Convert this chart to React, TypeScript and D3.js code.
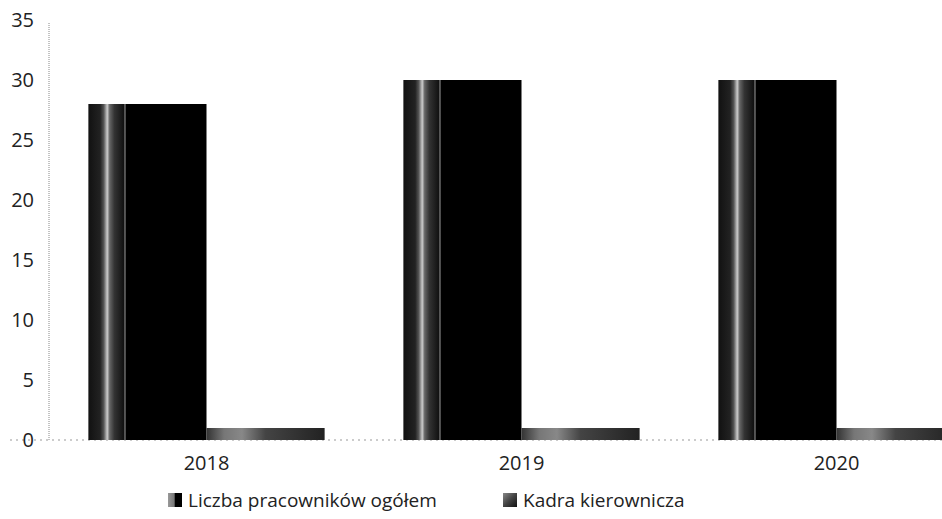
import React from "react";
import * as d3 from "d3";

const categories = ["2018", "2019", "2020"];
const seriesNames = ["Liczba pracowników ogółem", "Kadra kierownicza"];
const totalEmployees = [28, 30, 30];
const managers = [1, 1, 1];
const yTicks = [0, 5, 10, 15, 20, 25, 30, 35];

const W = 942;
const H = 519;

export default function App() {
  const x = d3.scaleBand<string>().domain(categories).range([49, 994]).paddingInner(0.25).paddingOuter(0.125);
  const inner = d3.scaleBand<string>().domain(seriesNames).range([0, x.bandwidth()]);
  const y = d3.scaleLinear().domain([0, 35]).range([440, 20]);
  const font = "'Open Sans', sans-serif";
  const series = [totalEmployees, managers];

  return (
    <svg width={W} height={H} style={{ position: "absolute", left: 0, top: 0, background: "#fff" }}>
      <defs>
        <linearGradient id="gBlack" x1="0" x2="1" y1="0" y2="0">
          <stop offset="0" stopColor="#111" />
          <stop offset="0.1" stopColor="#222" />
          <stop offset="0.13" stopColor="#555" />
          <stop offset="0.16" stopColor="#ccc" />
          <stop offset="0.18" stopColor="#666" />
          <stop offset="0.22" stopColor="#333" />
          <stop offset="0.3" stopColor="#111" />
          <stop offset="0.31" stopColor="#888" />
          <stop offset="0.32" stopColor="#000" />
          <stop offset="1" stopColor="#000" />
        </linearGradient>
        <linearGradient id="gGrey" x1="0" x2="1" y1="0" y2="0">
          <stop offset="0" stopColor="#333" />
          <stop offset="0.15" stopColor="#777" />
          <stop offset="0.3" stopColor="#888" />
          <stop offset="0.5" stopColor="#444" />
          <stop offset="1" stopColor="#222" />
        </linearGradient>
        <linearGradient id="gSw1" x1="0" x2="1" y1="0" y2="0">
          <stop offset="0" stopColor="#999" />
          <stop offset="0.45" stopColor="#777" />
          <stop offset="0.5" stopColor="#000" />
          <stop offset="1" stopColor="#000" />
        </linearGradient>
        <linearGradient id="gSw2" x1="0" x2="1" y1="0" y2="1">
          <stop offset="0" stopColor="#888" />
          <stop offset="0.5" stopColor="#444" />
          <stop offset="1" stopColor="#111" />
        </linearGradient>
      </defs>
      <line x1={49} x2={49} y1={y(35) + 3} y2={y(0)} stroke="#888" strokeDasharray="1 1" />
      <line x1={10} x2={W} y1={y(0)} y2={y(0)} stroke="#999" strokeDasharray="2 4" />
      {yTicks.map((t) => (
        <text key={t} x={34} y={y(t)} dy="0.35em" textAnchor="end" fontFamily={font} fontSize={20} fill="#222">
          {t}
        </text>
      ))}
      {categories.map((c, i) => (
        <g key={c}>
          {series.map((vals, s) => (
            <rect
              key={s}
              x={(x(c) as number) + (inner(seriesNames[s]) as number)}
              y={y(vals[i])}
              width={inner.bandwidth()}
              height={y(0) - y(vals[i])}
              fill={s === 0 ? "url(#gBlack)" : "url(#gGrey)"}
            />
          ))}
          <text x={(x(c) as number) + x.bandwidth() / 2} y={463} dy="0.35em" textAnchor="middle" fontFamily={font} fontSize={20} fill="#222">
            {c}
          </text>
        </g>
      ))}
      <g>
        <rect x={168} y={493} width={14} height={14} fill="url(#gSw1)" />
        <text x={188} y={500} dy="0.35em" fontFamily={font} fontSize={19} fill="#222">{seriesNames[0]}</text>
        <rect x={503} y={493} width={14} height={14} fill="url(#gSw2)" />
        <text x={523} y={500} dy="0.35em" fontFamily={font} fontSize={19} fill="#222">{seriesNames[1]}</text>
      </g>
    </svg>
  );
}
